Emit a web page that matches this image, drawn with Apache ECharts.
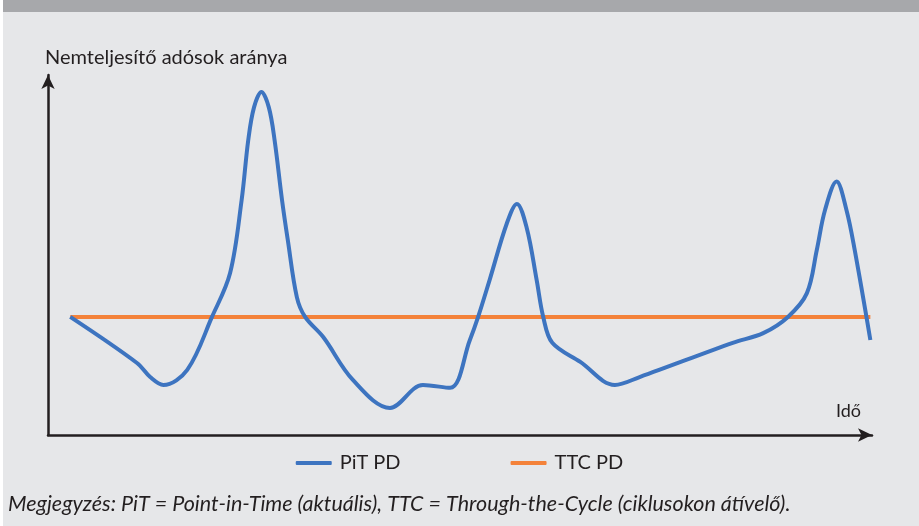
<!DOCTYPE html>
<html>
<head>
<meta charset="utf-8">
<script src="https://cdn.jsdelivr.net/npm/echarts@6/dist/echarts.min.js"></script>
<style>
  html, body { margin: 0; padding: 0; background: #fff; }
  #chart { width: 919px; height: 526px; }
</style>
</head>
<body>
<div id="chart"></div>
<script>
// time position (0-100) and default rate (0-100)
const pitTime = [2.7, 10.8, 12.4, 14.0, 16.9, 19.9, 22.1, 23.5, 24.3, 25.0, 25.9, 26.8, 27.5, 28.4, 29.1,
  30.2, 31.2, 33.4, 37.0, 41.5, 45.5, 48.8, 51.2, 52.2, 53.6, 55.7, 56.9, 58.1, 59.3,
  60.1, 61.2, 64.6, 68.8, 71.8, 83.1, 86.8, 89.8, 92.1, 93.3, 94.3, 95.7, 96.9, 97.9, 99.8]
const pitValues = [32.8, 20.0, 16.1, 13.9, 18.1, 32.8, 45.0, 65.3, 81.9, 91.0, 95.3, 91.0, 81.9, 65.3, 54.2,
  38.3, 32.8, 27.2, 15.3, 7.5, 13.9, 13.1, 26.4, 32.8, 43.1, 58.9, 64.2, 57.5, 43.1,
  32.8, 25.6, 20.3, 13.9, 16.1, 25.6, 28.3, 32.8, 39.4, 51.4, 62.5, 70.4, 62.5, 51.4, 26.4]
const ttcTime = [2.7, 99.8]
const ttcValues = [32.8, 32.8]

const seriesNames = ['PiT PD', 'TTC PD']
const yName = 'Nemteljesítő adósok aránya'
const xName = 'Idő'
const note = 'Megjegyzés: PiT = Point-in-Time (aktuális), TTC = Through-the-Cycle (ciklusokon átívelő).'

const font = 'Lato, "Open Sans", sans-serif'
const axisColor = '#231f20'

const chart = echarts.init(document.getElementById('chart'))
chart.setOption({
  backgroundColor: '#e6e7e9',
  animation: false,
  textStyle: { fontFamily: font },
  grid: { left: 48, right: 47, top: 75, bottom: 91 },
  legend: {
    data: seriesNames,
    bottom: 48,
    left: 'center',
    itemWidth: 36,
    itemHeight: 4,
    itemGap: 110,
    icon: 'roundRect',
    textStyle: { fontFamily: font, fontSize: 20, color: axisColor, padding: [0, 0, 0, 3] }
  },
  xAxis: {
    type: 'value',
    min: 0,
    max: 100,
    axisLine: {
      show: true,
      symbol: ['none', 'arrow'],
      symbolSize: [10, 14],
      lineStyle: { color: axisColor, width: 2.5 }
    },
    axisTick: { show: false },
    axisLabel: { show: false },
    splitLine: { show: false }
  },
  yAxis: {
    type: 'value',
    min: 0,
    max: 100,
    name: yName,
    nameLocation: 'end',
    nameGap: 7,
    nameTextStyle: { align: 'left', fontFamily: font, fontSize: 20, color: axisColor, padding: [0, 0, 0, -3] },
    axisLine: {
      show: true,
      symbol: ['none', 'arrow'],
      symbolSize: [10, 14],
      lineStyle: { color: axisColor, width: 2.5 }
    },
    axisTick: { show: false },
    axisLabel: { show: false },
    splitLine: { show: false }
  },
  graphic: [
    { type: 'rect', left: 0, top: 0, shape: { width: 919, height: 12 }, style: { fill: '#a7a8ab' } },
    { type: 'rect', left: 0, top: 0, shape: { width: 3, height: 526 }, style: { fill: '#ffffff' } },
    {
      type: 'text', left: 836, top: 402,
      style: { text: xName, font: '18px ' + font, fill: axisColor }
    },
    {
      type: 'text', left: 8, top: 493,
      style: { text: note, font: 'italic 21.5px ' + font, fill: axisColor }
    }
  ],
  series: [
    {
      name: seriesNames[0],
      type: 'line',
      data: pitTime.map((t, i) => [t, pitValues[i]]),
      smooth: 0.35,
      showSymbol: false,
      color: '#3d74c0',
      lineStyle: { width: 4, color: '#3d74c0' },
      z: 3
    },
    {
      name: seriesNames[1],
      type: 'line',
      data: ttcTime.map((t, i) => [t, ttcValues[i]]),
      showSymbol: false,
      color: '#f4823a',
      lineStyle: { width: 4, color: '#f4823a' },
      z: 2
    }
  ]
})
</script>
</body>
</html>
